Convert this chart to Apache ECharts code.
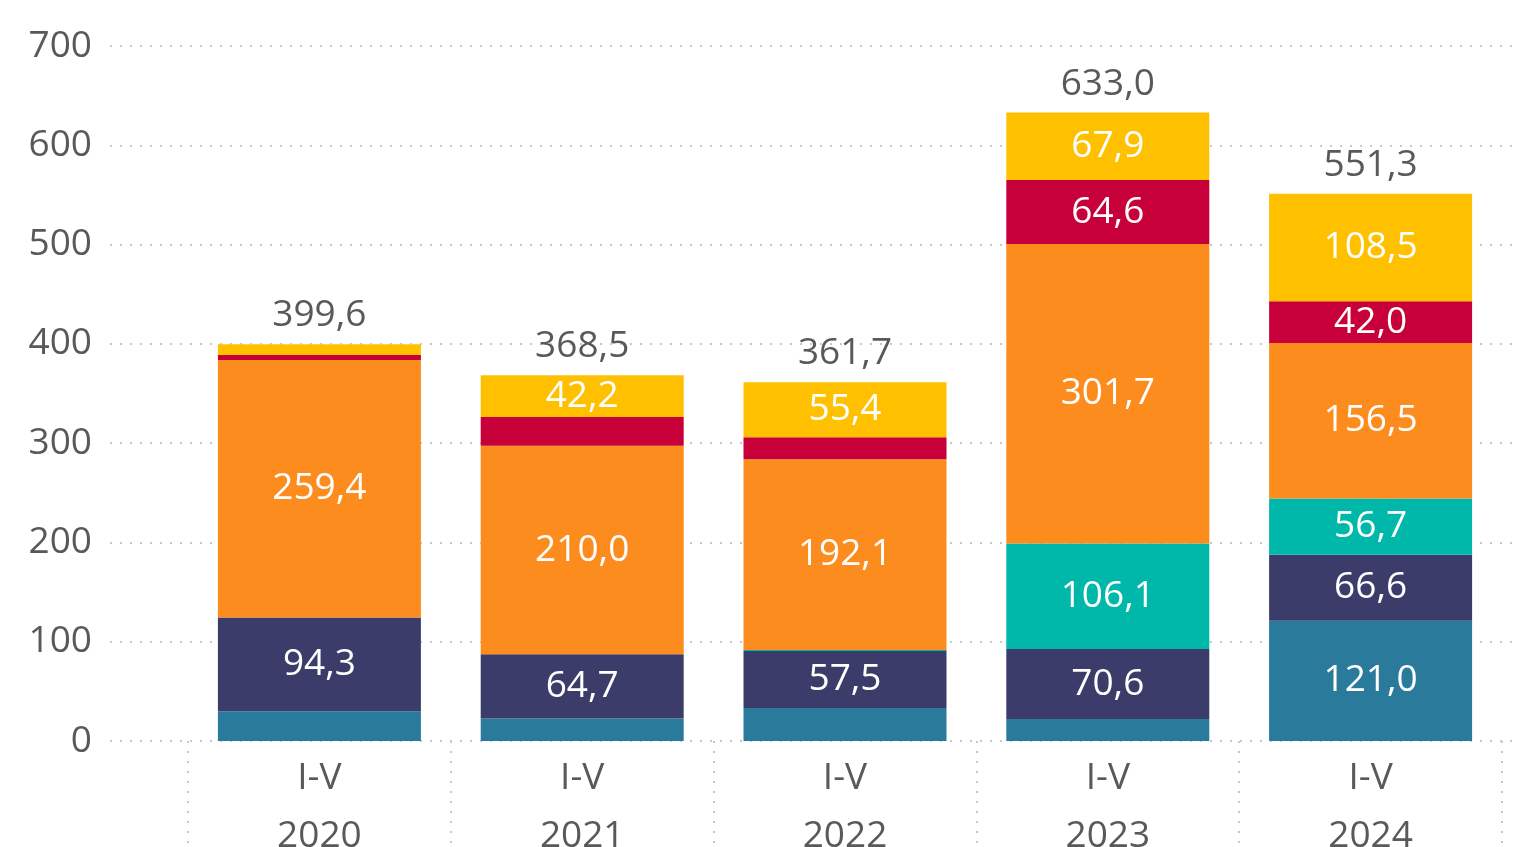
<!DOCTYPE html>
<html>
<head>
<meta charset="utf-8">
<script src="https://cdn.jsdelivr.net/npm/echarts@6/dist/echarts.min.js"></script>
<style>
  html, body {margin: 0; padding: 0; background: #fff;}
  #chart {width: 1523px; height: 847px;}
</style>
</head>
<body>
<div id="chart"></div>
<script>
const categories = ['I-V\n2020', 'I-V\n2021', 'I-V\n2022', 'I-V\n2023', 'I-V\n2024'];
const blueValues = [30.0, 22.6, 33.2, 22.1, 121.0];
const navyValues = [94.3, 64.7, 57.5, 70.6, 66.6];
const tealValues = [0, 0, 1.0, 106.1, 56.7];
const orangeValues = [259.4, 210.0, 192.1, 301.7, 156.5];
const redValues = [5.0, 29.0, 22.2, 64.6, 42.0];
const yellowValues = [10.9, 42.2, 55.4, 67.9, 108.5];
const totals = [399.6, 368.5, 361.7, 633.0, 551.3];
const yTicks = [0, 100, 200, 300, 400, 500, 600, 700];

const font = 'Open Sans';
const grey = '#595959';
const fmt = (v) => v.toFixed(1).replace('.', ',');

const segments = [
    {name: 'a', data: blueValues, color: '#2a7a9b'},
    {name: 'b', data: navyValues, color: '#3c3c6a'},
    {name: 'c', data: tealValues, color: '#00b8aa'},
    {name: 'd', data: orangeValues, color: '#fd8c1e'},
    {name: 'e', data: redValues, color: '#c8003a'},
    {name: 'f', data: yellowValues, color: '#ffc000'},
];

const chart = echarts.init(document.getElementById('chart'));

const series = segments.map(s => ({
    name: s.name,
    type: 'bar',
    stack: 'total',
    xAxisIndex: 1,
    yAxisIndex: 1,
    barWidth: 203,
    data: s.data,
    itemStyle: {color: s.color},
    label: {
        show: true,
        position: 'inside',
        color: '#fff',
        fontFamily: font,
        fontSize: 37,
        formatter: (p) => p.value >= 35 ? fmt(p.value) : '',
    },
}));

// transparent zero-height bar on top of the stack, only carries the total label
series.push({
    name: 'total',
    type: 'bar',
    stack: 'total',
    xAxisIndex: 1,
    yAxisIndex: 1,
    barWidth: 203,
    data: totals.map(() => 0),
    itemStyle: {color: 'transparent'},
    label: {
        show: true,
        position: 'top',
        distance: 10,
        color: grey,
        fontFamily: font,
        fontSize: 37,
        formatter: (p) => fmt(totals[p.dataIndex]),
    },
});

chart.setOption({
    animation: false,
    grid: [
        {left: 110, right: 8, top: 46, bottom: 106, outerBoundsMode: 'none'},
        {left: 188, right: 21, top: 46, bottom: 106, outerBoundsMode: 'none'},
    ],
    xAxis: [
        {gridIndex: 0, type: 'value', show: false, min: 0, max: 1},
        {
            gridIndex: 1,
            type: 'category',
            data: categories,
            axisLine: {show: false},
            axisTick: {
                show: true,
                length: 110,
                lineStyle: {color: '#c8c8c8', type: [2, 8], width: 2},
            },
            axisLabel: {
                color: grey,
                fontFamily: font,
                fontSize: 37,
                lineHeight: 58,
                margin: 8,
            },
        },
    ],
    yAxis: [
        {
            gridIndex: 0,
            type: 'value',
            min: 0,
            max: 700,
            interval: 100,
            axisLine: {show: false},
            axisTick: {show: false},
            axisLabel: {
                color: grey,
                fontFamily: font,
                fontSize: 37,
                margin: 18,
                formatter: (v) => yTicks.includes(v) ? String(v) : '',
            },
            splitLine: {lineStyle: {color: '#c8c8c8', type: [2, 8], width: 2}},
        },
        {
            gridIndex: 1,
            type: 'value',
            min: 0,
            max: 700,
            interval: 100,
            show: false,
            splitLine: {show: false},
        },
    ],
    series: series,
});
</script>
</body>
</html>
